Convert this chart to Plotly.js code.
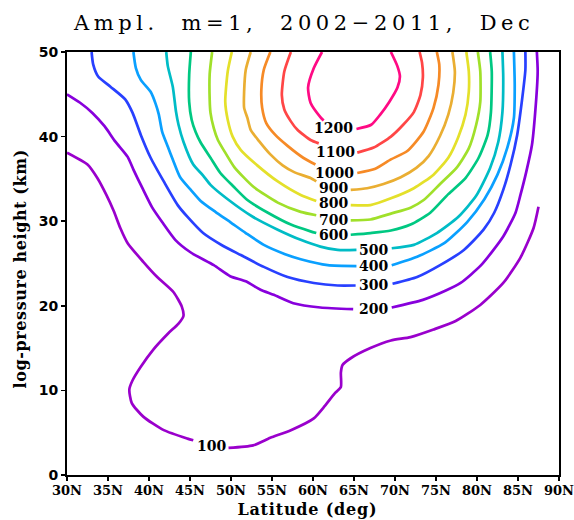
<!DOCTYPE html>
<html>
<head>
<meta charset="utf-8">
<script src="https://cdn.plot.ly/plotly-3.0.1.min.js"></script>
<style>html,body{margin:0;padding:0;background:#fff;}</style>
</head>
<body>
<div id="chart" style="width:574px;height:520px;"></div>
<script>
// Contour lines (latitude in deg N, log-pressure height in km); null = label gap
const lat100 = [30.0,32.5,33.7,34.8,35.7,36.5,37.4,39.3,41.0,43.0,44.0,44.2,43.6,42.3,40.5,39.0,38.0,37.6,37.9,39.3,41.8,44.7,45.4,null,49.7,52.7,54.8,57.3,60.1,61.3,62.7,63.4,63.4,63.6,64.6,67.0,69.5,71.9,74.7,77.4,80.4,83.2,85.3,86.9,87.5];
const hgt100 = [38.1,36.7,35.1,33.1,31.2,29.2,27.4,25.2,23.4,21.6,19.9,18.8,17.9,16.7,14.8,12.8,11.2,10.1,8.5,6.9,5.3,4.3,4.1,null,3.2,3.5,4.4,5.3,6.7,8.0,9.7,10.4,12.1,13.0,13.8,15.0,15.9,16.3,17.2,18.2,20.1,22.7,25.7,29.2,31.7];

const lat200 = [30.0,31.6,33.1,34.6,35.9,37.4,38.1,39.2,40.4,41.6,43.2,45.1,47.9,49.9,51.8,53.6,55.2,57.6,60.9,64.9,null,69.6,73.4,76.2,78.0,80.5,83.2,84.7,85.3,86.0,86.7,87.1,87.4,87.3];
const hgt200 = [45.0,44.0,42.8,41.2,39.4,37.6,36.1,33.9,31.6,29.9,27.8,26.3,24.8,23.5,22.9,21.9,21.3,20.3,19.8,19.6,null,19.8,20.7,21.8,22.7,24.8,28.2,31.0,33.1,35.8,39.0,42.9,47.7,50.0];

const lat300 = [33.0,33.2,33.8,35.3,37.1,38.0,39.0,40.2,41.8,43.5,44.7,46.6,49.0,51.2,54.0,56.9,60.1,63.0,65.2,null,69.7,72.7,75.5,78.4,80.8,82.1,83.2,84.1,84.9,85.5,85.9,85.9];
const hgt300 = [50.0,48.5,47.1,45.9,44.4,42.8,40.2,37.5,34.7,31.9,30.5,28.6,27.1,26.0,24.6,23.4,22.7,22.4,22.4,null,22.6,23.4,24.8,26.6,29.0,31.0,33.7,36.7,40.2,44.4,47.9,50.0];

const lat400 = [38.1,38.4,39.0,40.2,40.8,41.2,41.6,42.3,42.9,43.8,45.1,46.3,48.1,49.9,51.8,54.0,56.6,58.5,61.8,65.3,null,69.6,72.7,76.0,78.8,80.9,82.5,83.7,84.5,84.6,84.5];
const hgt400 = [50.0,48.1,46.7,45.3,43.9,42.6,40.6,38.8,37.3,35.2,33.7,32.4,31.1,29.9,28.6,27.2,26.1,25.5,24.8,24.7,null,24.8,25.8,27.4,29.9,32.6,35.5,38.7,42.2,46.1,50.0];

const lat500 = [42.1,42.3,42.9,43.3,43.6,44.2,45.4,46.6,47.5,49.6,52.7,55.7,58.5,60.9,63.0,65.3,null,69.6,72.3,75.1,77.7,79.9,81.6,82.6,83.1,83.2,83.1];
const hgt500 = [50.0,48.3,45.9,42.9,41.4,39.4,36.7,35.4,34.3,32.6,30.5,29.0,27.8,27.0,26.6,26.6,null,26.8,27.2,28.6,30.5,33.0,36.3,39.4,42.9,47.0,50.0];

const lat600 = [45.1,44.9,44.9,45.2,45.7,46.3,47.5,48.7,50.3,52.0,54.5,57.3,59.7,60.4,null,64.6,67.0,69.5,71.9,74.3,76.5,78.6,80.2,81.3,81.7,81.8,81.6];
const hgt600 = [50.0,47.3,44.1,42.0,40.5,39.3,37.5,35.7,34.1,32.5,31.0,29.6,28.8,28.6,null,28.4,28.6,28.9,29.6,31.0,33.2,35.1,37.5,40.2,42.9,47.7,50.0];

const lat700 = [47.7,47.4,47.4,47.5,47.9,48.4,49.3,50.4,52.7,55.7,58.5,60.4,null,64.6,67.0,69.5,71.9,73.5,75.5,77.5,79.0,79.9,80.4,80.4,80.1];
const hgt700 = [50.0,47.4,44.4,42.8,41.0,39.6,38.1,36.4,34.1,32.2,31.1,30.7,null,30.1,30.2,30.9,31.6,32.5,34.4,36.3,38.6,41.4,44.1,47.7,50.0];

const lat800 = [50.1,49.6,49.3,49.6,50.2,51.2,53.2,55.7,58.5,60.4,null,64.6,67.0,69.5,72.3,74.7,76.5,77.7,78.6,79.0,79.0,78.7];
const hgt800 = [50.0,47.7,44.1,42.0,40.0,38.4,36.6,34.7,33.1,32.4,null,31.9,31.9,32.7,33.9,35.5,37.5,39.9,42.6,45.3,47.7,50.0];

const lat900 = [52.4,51.8,51.6,51.6,52.0,52.4,53.4,54.8,56.3,57.7,59.7,60.4,null,64.6,66.6,68.6,70.7,72.6,74.1,75.5,76.5,77.1,77.3,77.0];
const hgt900 = [50.0,47.9,45.3,43.4,42.2,40.8,39.5,37.9,36.6,35.8,35.1,34.7,null,33.7,33.9,34.4,35.2,36.3,37.7,40.1,42.6,45.2,47.7,50.0];

const lat1000 = [54.8,54.0,53.7,53.8,54.3,55.4,56.9,58.8,60.3,null,65.4,67.6,69.5,71.5,73.5,74.7,75.3,75.4,75.1];
const hgt1000 = [50.0,47.9,45.5,43.4,41.6,40.2,38.9,37.5,36.7,null,35.7,36.2,37.3,38.3,40.6,43.4,46.1,48.5,50.0];

const lat1100 = [57.3,56.5,56.2,56.5,57.3,58.1,59.7,60.7,null,65.4,67.4,69.5,71.0,72.3,73.1,73.4,73.3,73.0];
const hgt1100 = [50.0,47.7,44.9,43.2,41.8,40.8,39.6,39.2,null,38.1,38.7,40.0,41.4,42.9,44.9,47.0,48.7,50.0];

const lat1200 = [61.1,60.1,59.4,59.7,60.9,61.3,null,65.3,67.1,68.2,69.3,70.3,70.6,70.3,69.5];
const hgt1200 = [50.0,48.1,45.8,44.0,42.3,41.9,null,40.9,41.4,42.6,44.1,45.8,47.1,48.3,50.0];

// Contour labels
const labelText = ["100","200","300","400","500","600","700","800","900","1000","1100","1200"];
const labelLat  = [47.6,67.4,67.4,67.4,67.4,62.5,62.5,62.5,62.5,62.6,62.7,62.5];
const labelHgt  = [3.4,19.6,22.5,24.7,26.6,28.4,30.2,32.1,33.9,35.7,38.2,41.0];

// Axis ticks
const xTickVals = [30,35,40,45,50,55,60,65,70,75,80,85,90];
const xTickText = ["30N","35N","40N","45N","50N","55N","60N","65N","70N","75N","80N","85N","90N"];
const yTickVals = [0,10,20,30,40,50];

const lines = [
  {lat: lat100, h: hgt100, c: '#9a00cc'},
  {lat: lat200, h: hgt200, c: '#8800dc'},
  {lat: lat300, h: hgt300, c: '#2840ff'},
  {lat: lat400, h: hgt400, c: '#0aa0ff'},
  {lat: lat500, h: hgt500, c: '#00bcc6'},
  {lat: lat600, h: hgt600, c: '#00c882'},
  {lat: lat700, h: hgt700, c: '#a0e02a'},
  {lat: lat800, h: hgt800, c: '#e4e02a'},
  {lat: lat900, h: hgt900, c: '#eaae32'},
  {lat: lat1000, h: hgt1000, c: '#f68a26'},
  {lat: lat1100, h: hgt1100, c: '#ff4646'},
  {lat: lat1200, h: hgt1200, c: '#ff0a84'}
];

const traces = lines.map(l => ({
  x: l.lat, y: l.h, type: 'scatter', mode: 'lines',
  line: {color: l.c, width: 2.7, shape: 'spline', smoothing: 0.6},
  connectgaps: false, hoverinfo: 'skip'
}));

const labelFont = {family: 'DejaVu Serif, serif', size: 14, color: '#000', weight: 'bold'};
const annotations = labelText.map((t, i) => ({
  text: t, x: labelLat[i], y: labelHgt[i], xref: 'x', yref: 'y',
  showarrow: false, font: labelFont, xanchor: 'center', yanchor: 'middle', borderpad: 0
}));

annotations.push({
  text: 'Latitude (deg)', xref: 'paper', yref: 'paper', x: 0.488, y: -0.081,
  xanchor: 'center', yanchor: 'middle', showarrow: false, borderpad: 0,
  font: {family: 'DejaVu Serif, serif', size: 16, color: '#000', weight: 'bold'}
});
annotations.push({
  text: 'log-pressure height (km)', xref: 'paper', yref: 'paper', x: -0.094, y: 0.488,
  xanchor: 'center', yanchor: 'middle', showarrow: false, textangle: -90, borderpad: 0,
  font: {family: 'DejaVu Serif, serif', size: 16, color: '#000', weight: 'bold'}
});

const axisCommon = {
  showline: true, mirror: true, linecolor: '#000', linewidth: 2,
  showgrid: false, zeroline: false, ticks: 'outside', ticklen: 4,
  tickwidth: 1.5, tickcolor: '#000', ticklabeloverflow: 'allow'
};

const layout = {
  width: 574, height: 520,
  margin: {l: 67, r: 15, t: 52, b: 45},
  paper_bgcolor: '#fff', plot_bgcolor: '#fff',
  showlegend: false,
  title: {
    text: 'Ampl.  m=1,  2002\u22122011,  Dec',
    x: 0.53, xanchor: 'center', y: 0.956, yanchor: 'middle',
    font: {family: 'DejaVu Serif, serif', size: 21, color: '#000'}
  },
  xaxis: Object.assign({}, axisCommon, {
    range: [30, 90], tickvals: xTickVals, ticktext: xTickText, ticklabelstandoff: -2,
    tickfont: {family: 'DejaVu Serif, serif', size: 13, color: '#000', weight: 'bold'}
  }),
  yaxis: Object.assign({}, axisCommon, {
    range: [0, 50], tickvals: yTickVals,
    tickfont: {family: 'DejaVu Sans, sans-serif', size: 14, color: '#000', weight: 'bold'}
  }),
  annotations: annotations
};

Plotly.newPlot('chart', traces, layout, {staticPlot: true, displayModeBar: false}).then(() => {
  const t = document.querySelector('.gtitle');
  if (t) t.style.letterSpacing = '4.6px';
  document.querySelectorAll('.annotation-text').forEach(el => {
    const txt = el.textContent;
    if (txt === 'Latitude (deg)') el.style.letterSpacing = '0.8px';
    if (txt === 'log-pressure height (km)') el.style.letterSpacing = '0.6px';
  });
});
</script>
</body>
</html>
